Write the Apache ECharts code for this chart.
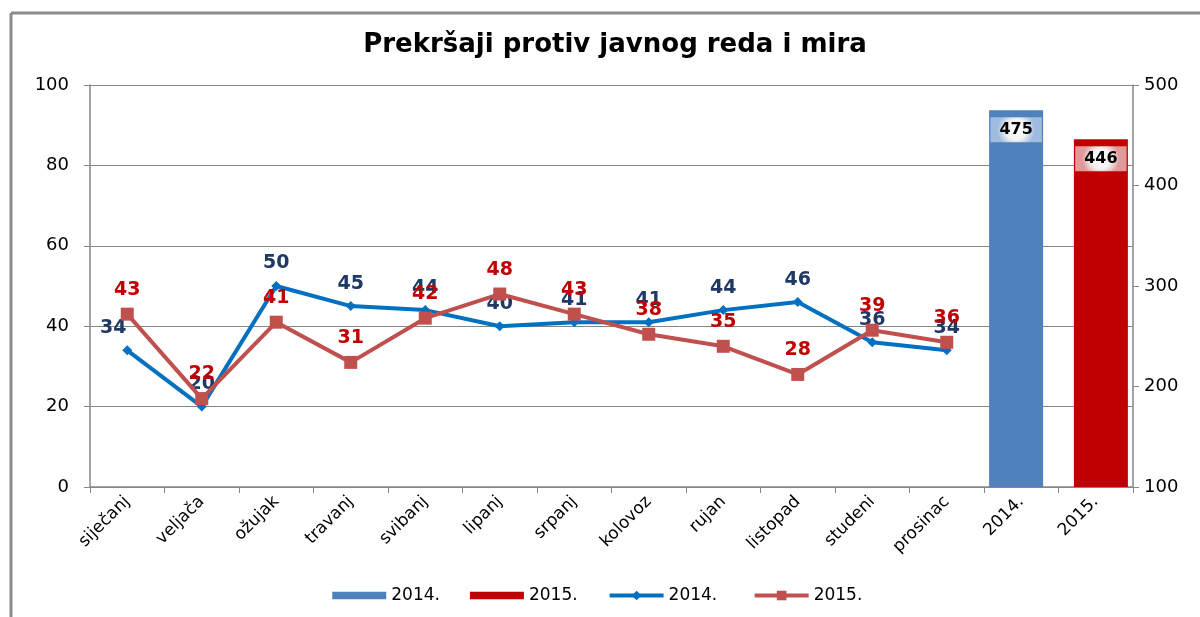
<!DOCTYPE html>
<html>
<head>
    <meta charset="utf-8">
    <title>Prekršaji protiv javnog reda i mira</title>
    <script src="https://cdn.jsdelivr.net/npm/echarts@6/dist/echarts.min.js"></script>
    <style>
        html, body { margin: 0; padding: 0; background: #fff; }
    </style>
</head>
<body>
    <div id="chart" style="width: 1200px; height: 617px;"></div>

    <script>
    // categories: 12 months + two yearly totals
    const categories = ['siječanj', 'veljača', 'ožujak', 'travanj', 'svibanj', 'lipanj',
        'srpanj', 'kolovoz', 'rujan', 'listopad', 'studeni', 'prosinac', '2014.', '2015.'];

    // monthly counts (left axis)
    const months2014 = [34, 20, 50, 45, 44, 40, 41, 41, 44, 46, 36, 34];
    const months2015 = [43, 22, 41, 31, 42, 48, 43, 38, 35, 28, 39, 36];

    // yearly totals (right axis)
    const total2014 = 475;
    const total2015 = 446;

    const font = '"DejaVu Sans", "Liberation Sans", Arial, sans-serif';

    const chart = echarts.init(document.getElementById('chart'));

    const pad = (arr) => arr.concat([null, null]);
    const barData2014 = categories.map((c, i) => i === 12 ? total2014 : null);
    const barData2015 = categories.map((c, i) => i === 13 ? total2015 : null);

    // first 2014 label sits a bit left of its point in the original
    const line2014 = pad(months2014).map((v, i) => i === 0 ? { value: v, label: { offset: [-14, 0] } } : v);

    const barLabel = (edge) => ({
        show: true,
        position: 'insideTop',
        distance: 7,
        color: '#000',
        fontFamily: font,
        fontWeight: 'bold',
        fontSize: 16,
        padding: [5, 9, 4, 9],
        backgroundColor: new echarts.graphic.RadialGradient(0.5, 0.5, 0.75, [
            { offset: 0, color: '#ffffff' },
            { offset: 0.55, color: '#f2f2f2' },
            { offset: 1, color: edge }
        ])
    });

    const lineLabel = (color) => ({
        show: true,
        position: 'top',
        distance: 8,
        color: color,
        fontSize: 19,
        fontWeight: 'bold',
        fontFamily: font
    });

    const option = {
        animation: false,
        backgroundColor: '#fff',
        textStyle: { fontFamily: font },
        title: {
            text: 'Prekršaji protiv javnog reda i mira',
            left: 610,
            textAlign: 'center',
            top: 27,
            textStyle: { fontFamily: font, fontSize: 26, fontWeight: 'bold', color: '#000' }
        },
        graphic: [
            { type: 'line', shape: { x1: 11, y1: 13, x2: 1200, y2: 13 }, style: { stroke: '#8c8c8c', lineWidth: 3 } },
            { type: 'line', shape: { x1: 11, y1: 13, x2: 11, y2: 617 }, style: { stroke: '#8c8c8c', lineWidth: 3 } }
        ],
        grid: { left: 90, right: 67, top: 85, bottom: 130 },
        legend: {
            bottom: 8,
            left: 'center',
            itemWidth: 54,
            itemHeight: 12,
            itemGap: 30,
            symbolKeepAspect: true,
            textStyle: { fontFamily: font, fontSize: 17, color: '#000' },
            data: [
                { name: '2014.', icon: 'path://M0,0H52V7H0Z', itemStyle: { color: '#4f81bd' } },
                { name: '2015.', icon: 'path://M0,0H52V7H0Z', itemStyle: { color: '#c00000' } },
                { name: '2014. ', lineStyle: { width: 4 } },
                { name: '2015. ', lineStyle: { width: 4 } }
            ]
        },
        xAxis: {
            type: 'category',
            data: categories,
            boundaryGap: true,
            axisLine: { lineStyle: { color: '#868686', width: 1.5 } },
            axisTick: { show: true, alignWithLabel: false, length: 6, lineStyle: { color: '#868686' } },
            axisLabel: {
                interval: 0,
                rotate: 45,
                fontSize: 17,
                color: '#000',
                fontFamily: font,
                margin: 12
            }
        },
        yAxis: [
            {
                type: 'value',
                min: 0,
                max: 100,
                interval: 20,
                position: 'left',
                axisLine: { show: true, lineStyle: { color: '#868686', width: 1.5 } },
                axisTick: { show: true, length: 6, lineStyle: { color: '#868686' } },
                splitLine: { show: true, lineStyle: { color: '#868686', width: 1.2 } },
                axisLabel: { fontSize: 18, color: '#000', fontFamily: font, margin: 21 }
            },
            {
                type: 'value',
                min: 100,
                max: 500,
                interval: 100,
                position: 'right',
                axisLine: { show: true, lineStyle: { color: '#868686', width: 1.5 } },
                axisTick: { show: true, length: 6, lineStyle: { color: '#868686' } },
                splitLine: { show: false },
                axisLabel: { fontSize: 18, color: '#000', fontFamily: font, margin: 11 }
            }
        ],
        series: [
            {
                name: '2014.',
                type: 'bar',
                yAxisIndex: 1,
                data: barData2014,
                barWidth: 54,
                barGap: '-81%',
                itemStyle: { color: '#4f81bd' },
                label: barLabel('#9fbce0')
            },
            {
                name: '2015.',
                type: 'bar',
                yAxisIndex: 1,
                data: barData2015,
                barWidth: 54,
                itemStyle: { color: '#c00000' },
                label: barLabel('#e09a9a')
            },
            {
                name: '2014. ',
                type: 'line',
                yAxisIndex: 0,
                data: line2014,
                symbol: 'diamond',
                symbolSize: 10,
                z: 3,
                lineStyle: { color: '#0070c0', width: 4 },
                itemStyle: { color: '#0070c0' },
                label: lineLabel('#1f3864')
            },
            {
                name: '2015. ',
                type: 'line',
                yAxisIndex: 0,
                data: pad(months2015),
                symbol: 'rect',
                symbolSize: 13,
                z: 4,
                lineStyle: { color: '#c0504d', width: 4 },
                itemStyle: { color: '#c0504d' },
                label: lineLabel('#c00000')
            }
        ]
    };

    chart.setOption(option);
    </script>
</body>
</html>
